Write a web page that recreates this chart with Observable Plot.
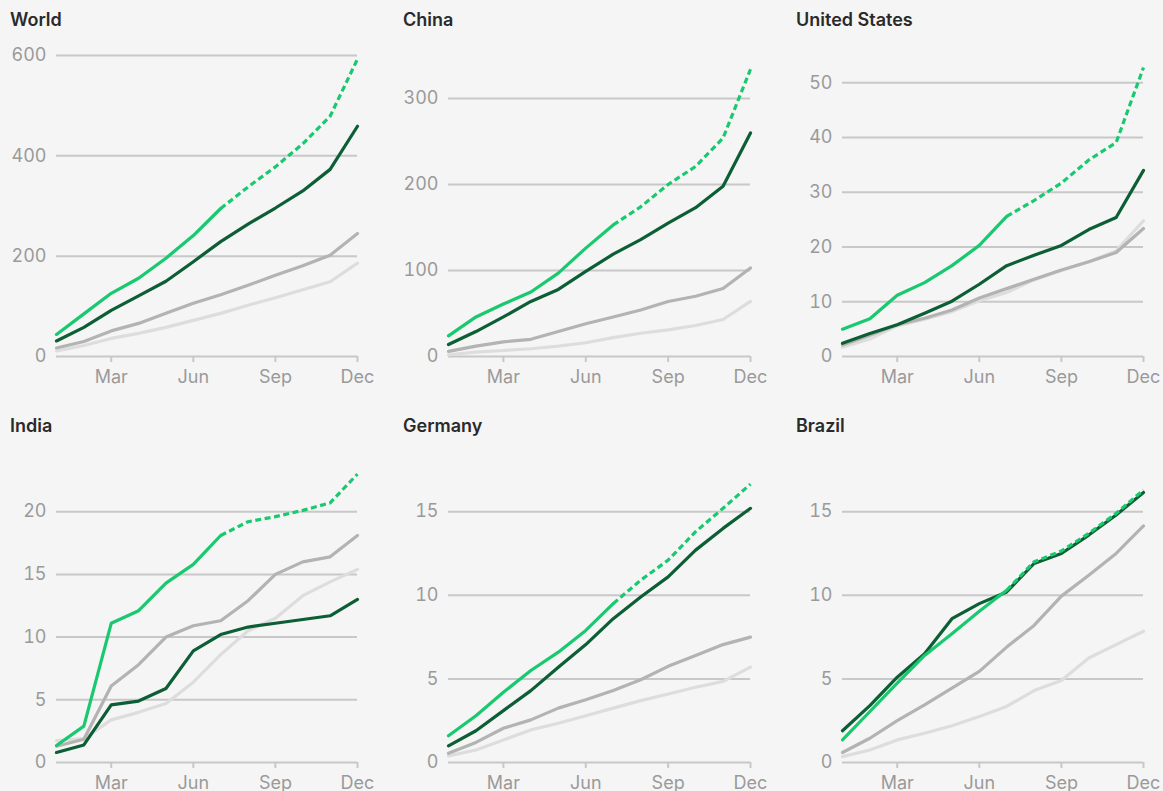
<!DOCTYPE html>
<html><head><meta charset="utf-8">
<script src="https://cdn.jsdelivr.net/npm/d3@7"></script>
<script src="https://cdn.jsdelivr.net/npm/@observablehq/plot@0.6"></script>
<style>
html,body{margin:0;padding:0;background:#f5f5f5;font-family:Inter,"Noto Sans",sans-serif;overflow:hidden;}
#grid{display:grid;grid-template-columns:393px 393px 377px;grid-template-rows:406px 385px;}
.title{height:40px;line-height:40px;padding-left:10px;font-size:18px;font-weight:600;color:#2a2a2a;}
svg{display:block;overflow:visible;}
</style></head><body><div id="grid"></div><script>
const months = ["Jan","Feb","Mar","Apr","May","Jun","Jul","Aug","Sep","Oct","Nov","Dec"];
const xTicks = [2, 5, 8, 11];
const projectionStart = 6;

const countries = ["World", "China", "United States", "India", "Germany", "Brazil"];
const yMax = [600, 350, 55, 24, 18, 18];
const yTicks = [
  [0, 200, 400, 600],
  [0, 100, 200, 300],
  [0, 10, 20, 30, 40, 50],
  [0, 5, 10, 15, 20],
  [0, 5, 10, 15],
  [0, 5, 10, 15]
];

const worldGreen = [44, 85, 126, 156, 196, 241, 295, 338, 378, 424, 479, 593];
const worldDark  = [31, 58, 92, 121, 150, 189, 229, 264, 296, 330, 373, 459];
const worldGray  = [17, 30, 51, 66, 86, 106, 123, 142, 162, 181, 202, 245];
const worldLight = [11, 22, 36, 46, 58, 72, 86, 102, 117, 133, 149, 186];

const chinaGreen = [24, 46, 61, 75, 97, 126, 153, 174, 200, 221, 254, 334];
const chinaDark  = [14, 29, 46, 64, 78, 99, 119, 136, 155, 173, 198, 260];
const chinaGray  = [6, 12, 17, 20, 29, 38, 46, 54, 64, 70, 79, 103];
const chinaLight = [2, 5, 7, 9, 12, 16, 22, 27, 31, 36, 43, 64];

const usGreen = [5.0, 6.9, 11.2, 13.5, 16.6, 20.3, 25.6, 28.5, 31.7, 35.9, 39.1, 52.8];
const usDark  = [2.4, 4.2, 5.8, 7.9, 10.1, 13.2, 16.6, 18.5, 20.3, 23.2, 25.4, 34.0];
const usGray  = [2.1, 3.9, 5.8, 7.0, 8.5, 10.7, 12.4, 14.1, 15.8, 17.3, 19.0, 23.4];
const usLight = [1.7, 3.2, 5.6, 6.8, 8.2, 10.2, 11.7, 14.0, 15.7, 17.3, 19.3, 24.8];

const indiaGreen = [1.35, 2.9, 11.1, 12.1, 14.3, 15.8, 18.1, 19.2, 19.6, 20.1, 20.7, 23.0];
const indiaDark  = [0.8, 1.4, 4.6, 4.9, 5.9, 8.9, 10.2, 10.8, 11.1, 11.4, 11.7, 13.0];
const indiaGray  = [1.3, 1.85, 6.1, 7.8, 10.0, 10.9, 11.3, 12.9, 15.0, 16.0, 16.4, 18.1];
const indiaLight = [1.75, 1.9, 3.4, 4.0, 4.7, 6.4, 8.6, 10.5, 11.5, 13.3, 14.4, 15.4];

const germanyGreen = [1.6, 2.8, 4.2, 5.5, 6.6, 7.9, 9.5, 10.9, 12.1, 13.8, 15.2, 16.65];
const germanyDark  = [1.0, 1.9, 3.1, 4.3, 5.7, 7.05, 8.6, 9.9, 11.1, 12.7, 14.0, 15.2];
const germanyGray  = [0.55, 1.2, 2.05, 2.55, 3.25, 3.75, 4.3, 4.95, 5.75, 6.4, 7.05, 7.5];
const germanyLight = [0.4, 0.75, 1.35, 1.95, 2.35, 2.8, 3.25, 3.7, 4.1, 4.5, 4.85, 5.7];

const brazilGreen = [1.35, 3.05, 4.75, 6.4, 7.7, 9.05, 10.3, 12.0, 12.65, 13.7, 14.9, 16.3];
const brazilDark  = [1.9, 3.4, 5.1, 6.5, 8.6, 9.5, 10.2, 11.9, 12.5, 13.6, 14.8, 16.15];
const brazilGray  = [0.6, 1.45, 2.5, 3.45, 4.45, 5.45, 6.9, 8.2, 9.95, 11.2, 12.5, 14.15];
const brazilLight = [0.35, 0.75, 1.35, 1.75, 2.2, 2.75, 3.35, 4.3, 4.9, 6.25, 7.05, 7.85];

const panelSeries = [
  [worldGreen, worldDark, worldGray, worldLight],
  [chinaGreen, chinaDark, chinaGray, chinaLight],
  [usGreen, usDark, usGray, usLight],
  [indiaGreen, indiaDark, indiaGray, indiaLight],
  [germanyGreen, germanyDark, germanyGray, germanyLight],
  [brazilGreen, brazilDark, brazilGray, brazilLight]
];

const GREEN = "#19c96f", DARK = "#0c5e34", GRAY = "#b3b3b3", LIGHT = "#dddddd";
const GRID = "#c8c8c8", TICK = "#9a9a9a";

const grid = document.getElementById("grid");
countries.forEach((name, p) => {
  const [g, dk, gr, lt] = panelSeries[p];
  const rows = (arr) => arr.map((v, i) => ({i, v}));
  const cell = document.createElement("div");
  const title = document.createElement("div");
  title.className = "title";
  title.textContent = name;
  cell.appendChild(title);
  const row = p < 3 ? 0 : 1;
  const chart = Plot.plot({
    width: p % 3 === 2 ? 377 : 393,
    height: row === 0 ? 346 : 345,
    marginLeft: p % 3 === 1 ? 55 : 56,
    marginRight: p % 3 === 2 ? 20 : 36,
    marginTop: 15,
    marginBottom: row === 0 ? 30 : 29,
    style: {background: "transparent", fontSize: "18px", fontFamily: "Inter, 'Noto Sans', sans-serif", color: TICK, overflow: "visible"},
    x: {domain: [0, 11]},
    y: {domain: [0, yMax[p]]},
    marks: [
      Plot.gridY(yTicks[p].filter(t => t > 0), {stroke: GRID, strokeOpacity: 1, strokeWidth: 2}),
      Plot.ruleY([0], {stroke: GRID, strokeWidth: 2}),
      Plot.axisY(yTicks[p], {tickSize: 0, tickPadding: 10, fill: TICK, fontSize: 18, label: null}),
      Plot.axisX(xTicks, {tickSize: 6, tickPadding: 8, stroke: GRID, strokeWidth: 2, fill: TICK, fontSize: 18, label: null, tickFormat: i => months[i]}),
      Plot.line(rows(lt), {x: "i", y: "v", stroke: LIGHT, strokeWidth: 3.2}),
      Plot.line(rows(gr), {x: "i", y: "v", stroke: GRAY, strokeWidth: 3.2}),
      Plot.line(rows(dk), {x: "i", y: "v", stroke: DARK, strokeWidth: 3.2}),
      Plot.line(rows(g).filter(d => d.i >= projectionStart), {x: "i", y: "v", stroke: GREEN, strokeWidth: 3.2, strokeDasharray: "6 3.5", strokeLinecap: "butt", strokeLinejoin: "miter"}),
      Plot.line(rows(g).filter(d => d.i <= projectionStart), {x: "i", y: "v", stroke: GREEN, strokeWidth: 3.2})
    ]
  });
  cell.appendChild(chart);
  grid.appendChild(cell);
});
</script></body></html>
